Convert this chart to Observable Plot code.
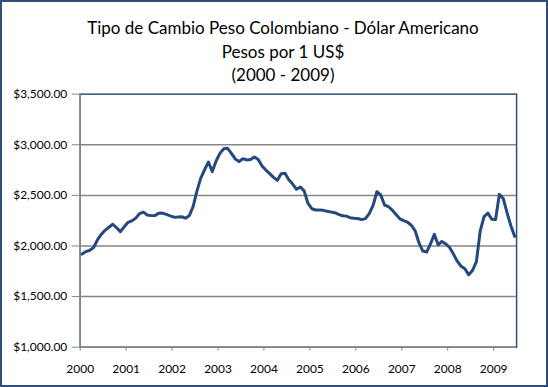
<!DOCTYPE html>
<html>
<head>
<meta charset="utf-8">
<script src="https://cdn.jsdelivr.net/npm/d3@7"></script>
<script src="https://cdn.jsdelivr.net/npm/@observablehq/plot@0.6"></script>
<style>
  html, body { margin: 0; padding: 0; background: #fff; }
  #chart { position: relative; width: 548px; height: 387px; box-sizing: border-box; border: 2px solid #2F4E7C; background: #fff; overflow: hidden; font-family: Lato, sans-serif; }
  #title { position: absolute; left: 0; top: 14px; width: 562px; text-align: center; font-size: 17px; line-height: 23.5px; color: #000; }
  #plot { position: absolute; left: -2px; top: -2px; }
</style>
</head>
<body>
<div id="chart">
  <div id="title">Tipo de Cambio Peso Colombiano - Dólar Americano<br>Pesos por 1 US$<br>(2000 - 2009)</div>
  <div id="plot"></div>
</div>
<script>
const years = ["2000", "2001", "2002", "2003", "2004", "2005", "2006", "2007", "2008", "2009"];
const yTicks = [1000, 1500, 2000, 2500, 3000, 3500];

// monthly exchange rate (COP per USD)
const v2000 = [1920, 1945, 1958, 1985, 2060, 2115, 2155, 2185, 2215, 2180, 2142, 2190];
const v2001 = [2234, 2248, 2275, 2320, 2335, 2306, 2300, 2300, 2323, 2325, 2312, 2298];
const v2002 = [2285, 2286, 2289, 2275, 2300, 2390, 2545, 2670, 2755, 2830, 2735, 2840];
const v2003 = [2915, 2960, 2965, 2915, 2860, 2835, 2862, 2850, 2855, 2880, 2855, 2790];
const v2004 = [2750, 2715, 2678, 2648, 2715, 2718, 2655, 2612, 2560, 2582, 2545, 2420];
const v2005 = [2368, 2356, 2355, 2352, 2344, 2336, 2329, 2312, 2298, 2295, 2280, 2274];
const v2006 = [2272, 2260, 2270, 2320, 2400, 2536, 2505, 2405, 2390, 2355, 2310, 2268];
const v2007 = [2250, 2235, 2205, 2150, 2030, 1950, 1940, 2020, 2115, 2012, 2045, 2020];
const v2008 = [1985, 1920, 1850, 1800, 1775, 1715, 1760, 1845, 2150, 2290, 2325, 2265];
const v2009 = [2262, 2510, 2470, 2330, 2200, 2095];

const series = [v2000, v2001, v2002, v2003, v2004, v2005, v2006, v2007, v2008, v2009];
const data = series.flatMap((arr, y) => arr.map((v, m) => ({i: y * 12 + m + 0.5, v})));

const fmt = d => "$" + d3.format(",.2f")(d);

const plot = Plot.plot({
  width: 548,
  height: 387,
  marginLeft: 80,
  marginRight: 30,
  marginTop: 94,
  marginBottom: 39,
  style: {fontFamily: "Lato, sans-serif", fontSize: "12px", background: "transparent", color: "#000"},
  x: {type: "linear", domain: [0, 114]},
  y: {domain: [1000, 3500]},
  marks: [
    Plot.frame({stroke: "#2F4E7C", strokeWidth: 1.5}),
    Plot.ruleY([1500, 2000, 2500, 3000], {stroke: "#868686", strokeWidth: 1.5}),
    Plot.ruleY([1000], {stroke: "#868686", strokeWidth: 1.5}),
    Plot.ruleX([0], {stroke: "#868686", strokeWidth: 1.5}),
    Plot.axisY({ticks: yTicks, tickFormat: fmt, tickSize: 8, tickPadding: 5, stroke: "#868686", fill: "#000", label: null, fontSize: 12}),
    Plot.axisX({ticks: years.map((y, k) => k * 12), tickFormat: (d) => years[Math.round(d / 12)], tickSize: 4, tickPadding: 13, stroke: "#868686", fill: "#000", label: null, fontSize: 12}),
    Plot.line(data, {x: "i", y: "v", stroke: "#24497E", strokeWidth: 3, strokeLinejoin: "round", strokeLinecap: "round"})
  ]
});
document.getElementById("plot").appendChild(plot);
</script>
</body>
</html>
